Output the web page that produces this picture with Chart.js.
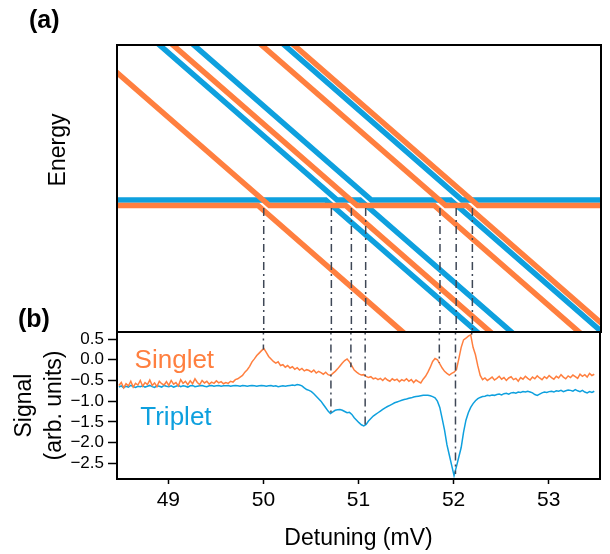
<!DOCTYPE html>
<html>
<head>
<meta charset="utf-8">
<script src="https://cdn.jsdelivr.net/npm/chart.js@4.4.0/dist/chart.umd.min.js"></script>
<style>
  html, body { margin: 0; padding: 0; background: #fff; }
  #wrap { position: relative; width: 610px; height: 554px; font-family: "Liberation Sans", Arial, sans-serif; }
  canvas { position: absolute; left: 0; }
  #energyCanvas { top: 0; }
  #signalCanvas { top: 330px; }
  .panel { position: absolute; font-weight: bold; font-size: 25px; line-height: 1; }
  .ylab { position: absolute; font-size: 23px; white-space: nowrap; transform: translate(-50%, -50%) rotate(-90deg); }
</style>
</head>
<body>
<div id="wrap">
  <canvas id="energyCanvas" width="610" height="334"></canvas>
  <canvas id="signalCanvas" width="610" height="224"></canvas>
  <div class="panel" style="left:29px;top:7px">(a)</div>
  <div class="panel" style="left:18px;top:306px">(b)</div>
  <div class="ylab" style="left:57px;top:150px">Energy</div>
</div>
<script>
const orange = '#FF7F3F';
const blue = '#0EA0DE';
const dashColor = '#3E4756';
const fontFamily = '"Liberation Sans", Arial, sans-serif';

// shared detuning window (mV)
const detuningMin = 48.46, detuningMax = 53.54;
const detuningTicks = [49, 50, 51, 52, 53];
const signalTicks = [0.5, 0.0, -0.5, -1.0, -1.5, -2.0, -2.5];

// (a) energy diagram, [detuning, energy] corners of each branch (arb. units)
const singletBranches = [
  [[48.40, 126.5], [49.94, 126.5], [51.58, -10]],
  [[47.97, 300], [50.06, 126.5], [50.86, 126.5], [52.50, -10]],
  [[48.89, 300], [50.98, 126.5], [51.79, 126.5], [53.43, -10]],
  [[49.82, 300], [51.91, 126.5], [52.13, 126.5], [53.77, -10]],
  [[50.16, 300], [52.25, 126.5], [53.60, 126.5]]
];
const tripletBranches = [
  [[48.40, 132], [50.65, 132], [52.36, -10]],
  [[48.75, 300], [50.77, 132], [51.01, 132], [52.72, -10]],
  [[49.11, 300], [51.13, 132], [51.96, 132], [53.67, -10]],
  [[50.06, 300], [52.08, 132], [53.60, 132]]
];

// anticrossings marked with dash-dot lines and the signal value each one runs down to
const crossingDetuning = [50.00, 50.71, 50.92, 51.07, 51.85, 52.02, 52.19];
const crossingSignal = [0.25, -1.30, -0.18, -1.60, -0.08, -2.76, 0.60];
const dashTopEnergy = 124;

// (b) measured traces, one sample every 0.025 mV from 48.48 mV
const traceStart = 48.48, traceStep = 0.025;
const singlet = [
  -0.62, -0.55, -0.68, -0.58, -0.63, -0.52, -0.66, -0.57, -0.61, -0.50,
  -0.64, -0.55, -0.60, -0.49, -0.62, -0.56, -0.65, -0.52, -0.58, -0.61,
  -0.53, -0.62, -0.50, -0.59, -0.55, -0.63, -0.48, -0.57, -0.52, -0.60,
  -0.51, -0.58, -0.46, -0.55, -0.60, -0.50, -0.56, -0.52, -0.59, -0.54,
  -0.57, -0.51, -0.56, -0.53, -0.58, -0.55, -0.57, -0.52, -0.54, -0.48,
  -0.46, -0.42, -0.38, -0.30, -0.24, -0.16, -0.05, 0.02, 0.10, 0.16,
  0.22, 0.27, 0.18, 0.08, 0.02, -0.04, -0.08, -0.05, -0.14, -0.12,
  -0.18, -0.14, -0.20, -0.17, -0.23, -0.19, -0.25, -0.21, -0.27, -0.24,
  -0.26, -0.30, -0.25, -0.32, -0.28, -0.31, -0.35, -0.30, -0.36, -0.38,
  -0.33, -0.28, -0.22, -0.15, -0.08, -0.02, 0.02, -0.05, -0.15, -0.25,
  -0.30, -0.34, -0.37, -0.36, -0.40, -0.43, -0.41, -0.46, -0.44, -0.48,
  -0.45, -0.50, -0.44, -0.49, -0.52, -0.46, -0.50, -0.47, -0.53, -0.48,
  -0.51, -0.46, -0.52, -0.48, -0.55, -0.49, -0.53, -0.56, -0.47, -0.40,
  -0.30, -0.18, -0.04, 0.03, 0.00, -0.10, -0.20, -0.28, -0.33, -0.37,
  -0.33, -0.30, -0.24, 0.02, 0.30, 0.48, 0.52, 0.57, 0.60, 0.30,
  0.12, -0.15, -0.38, -0.48, -0.44, -0.50, -0.46, -0.42, -0.49, -0.45,
  -0.40, -0.47, -0.43, -0.50, -0.44, -0.41, -0.48, -0.45, -0.52, -0.43,
  -0.47, -0.40, -0.45, -0.49, -0.42, -0.46, -0.39, -0.44, -0.48, -0.41,
  -0.45, -0.38, -0.43, -0.47, -0.40, -0.44, -0.36, -0.42, -0.46, -0.39,
  -0.43, -0.37, -0.41, -0.45, -0.35, -0.40, -0.36, -0.42, -0.33, -0.38, -0.35
];
const triplet = [
  -0.66, -0.63, -0.68, -0.64, -0.66, -0.62, -0.65, -0.67, -0.64, -0.65,
  -0.63, -0.66, -0.64, -0.62, -0.65, -0.67, -0.63, -0.64, -0.66, -0.62,
  -0.64, -0.65, -0.63, -0.66, -0.64, -0.62, -0.65, -0.63, -0.64, -0.66,
  -0.63, -0.62, -0.65, -0.64, -0.63, -0.62, -0.64, -0.65, -0.63, -0.62,
  -0.64, -0.63, -0.62, -0.64, -0.63, -0.63, -0.62, -0.64, -0.63, -0.62,
  -0.63, -0.64, -0.62, -0.63, -0.64, -0.63, -0.62, -0.63, -0.64, -0.63,
  -0.62, -0.63, -0.64, -0.63, -0.62, -0.64, -0.63, -0.65, -0.64, -0.63,
  -0.64, -0.63, -0.62, -0.61, -0.62, -0.60, -0.61, -0.63, -0.68, -0.72,
  -0.74, -0.77, -0.82, -0.88, -0.94, -1.00, -1.08, -1.16, -1.24, -1.30,
  -1.26, -1.22, -1.21, -1.20, -1.22, -1.25, -1.28, -1.27, -1.32, -1.40,
  -1.46, -1.52, -1.57, -1.60, -1.56, -1.48, -1.42, -1.36, -1.32, -1.28,
  -1.24, -1.20, -1.16, -1.13, -1.10, -1.07, -1.04, -1.02, -1.00, -0.98,
  -0.96, -0.95, -0.93, -0.92, -0.90, -0.89, -0.88, -0.87, -0.86, -0.86,
  -0.86, -0.87, -0.89, -0.92, -1.00, -1.15, -1.42, -1.70, -2.05, -2.30,
  -2.55, -2.80, -2.58, -2.35, -2.12, -1.75, -1.46, -1.28, -1.15, -1.06,
  -0.99, -0.94, -0.91, -0.89, -0.88, -0.86, -0.87, -0.85, -0.86, -0.84,
  -0.83, -0.85, -0.82, -0.81, -0.83, -0.80, -0.79, -0.81, -0.78, -0.79,
  -0.77, -0.78, -0.76, -0.78, -0.80, -0.84, -0.86, -0.83, -0.80, -0.78,
  -0.79, -0.77, -0.76, -0.78, -0.75, -0.76, -0.74, -0.77, -0.75, -0.73,
  -0.74, -0.76, -0.72, -0.75, -0.77, -0.74, -0.78, -0.80, -0.77, -0.79, -0.76
];

// in-plot trace names, anchored in data units
const traceLabels = [
  { text: 'Singlet', x: 48.645, y: -0.20, color: orange },
  { text: 'Triplet', x: 48.705, y: -1.58, color: blue }
];

Chart.defaults.font.family = fontFamily;
Chart.defaults.color = '#000';

const toXY = pts => pts.map(([x, y]) => ({ x, y }));
const traceXY = vals => vals.map((y, i) => ({ x: traceStart + i * traceStep, y }));

const branchSet = (pts, color, order) => ({
  data: toXY(pts), borderColor: color, borderWidth: 5.5,
  pointRadius: 0, clip: 0, order
});
const dashSet = pts => ({
  data: pts, borderColor: dashColor, borderWidth: 1.5, borderDash: [8, 4, 2, 4],
  pointRadius: 0, clip: 0, order: 0
});

// box around each panel
const framePlugin = {
  id: 'frame',
  afterDraw(chart) {
    const { ctx, chartArea: a } = chart;
    ctx.save();
    ctx.strokeStyle = '#000';
    ctx.lineWidth = 2;
    ctx.strokeRect(a.left, a.top, a.right - a.left, a.bottom - a.top);
    ctx.restore();
  }
};

const traceLabelPlugin = {
  id: 'traceLabels',
  afterDatasetsDraw(chart) {
    const { ctx, scales: { x, y } } = chart;
    ctx.save();
    ctx.font = '26px ' + fontFamily;
    ctx.textBaseline = 'alphabetic';
    traceLabels.forEach(l => {
      ctx.fillStyle = l.color;
      ctx.fillText(l.text, x.getPixelForValue(l.x), y.getPixelForValue(l.y));
    });
    ctx.restore();
  }
};

const quiet = { legend: { display: false }, tooltip: { enabled: false } };

// (a) energy diagram
new Chart(document.getElementById('energyCanvas'), {
  type: 'line',
  data: {
    datasets: [
      ...crossingDetuning.map(x => dashSet([{ x, y: dashTopEnergy }, { x, y: -5 }])),
      ...singletBranches.map(b => branchSet(b, orange, 1)),
      ...tripletBranches.map(b => branchSet(b, blue, 2))
    ]
  },
  options: {
    responsive: false,
    animation: false,
    events: [],
    layout: { padding: { left: 117, right: 9, top: 45, bottom: 2 } },
    plugins: quiet,
    scales: {
      x: { type: 'linear', display: false, min: detuningMin, max: detuningMax },
      y: { type: 'linear', display: false, min: 0, max: 287 }
    }
  },
  plugins: [framePlugin]
});

// (b) signal traces
new Chart(document.getElementById('signalCanvas'), {
  type: 'line',
  data: {
    datasets: [
      ...crossingDetuning.map((x, i) => dashSet([{ x, y: 0.8 }, { x, y: crossingSignal[i] }])),
      { data: traceXY(singlet), borderColor: orange, borderWidth: 1.5, pointRadius: 0, clip: 0, order: 1 },
      { data: traceXY(triplet), borderColor: blue, borderWidth: 1.5, pointRadius: 0, clip: 0, order: 2 }
    ]
  },
  options: {
    responsive: false,
    animation: false,
    events: [],
    layout: { padding: { left: 0, right: 10, top: 2, bottom: 0 } },
    plugins: quiet,
    scales: {
      x: {
        type: 'linear',
        min: detuningMin,
        max: detuningMax,
        afterBuildTicks: s => { s.ticks = detuningTicks.map(v => ({ value: v })); },
        afterFit: s => { s.height = 75; s.paddingLeft = 0; s.paddingRight = 0; },
        grid: { display: true, drawOnChartArea: false, drawTicks: true, tickLength: 5, tickWidth: 1.5, color: '#000' },
        border: { display: false },
        ticks: { font: { size: 21 }, color: '#000', padding: 4, maxRotation: 0, autoSkip: false, callback: v => String(v) },
        title: { display: true, text: 'Detuning (mV)', font: { size: 23 }, color: '#000', padding: { top: 0, bottom: 2 } }
      },
      y: {
        type: 'linear',
        min: -2.88,
        max: 0.67,
        afterBuildTicks: s => { s.ticks = signalTicks.map(v => ({ value: v })); },
        afterFit: s => { s.width = 117; s.paddingTop = 0; s.paddingBottom = 0; },
        grid: { display: true, drawOnChartArea: false, drawTicks: true, tickLength: 9, tickWidth: 1.5, color: '#000' },
        border: { display: false },
        ticks: { font: { size: 17 }, color: '#000', padding: 4, autoSkip: false, callback: v => v.toFixed(1).replace('-', '\u2212') },
        title: { display: true, text: ['Signal', '(arb. units)'], font: { size: 23, lineHeight: 1.3 }, color: '#000', padding: { top: 10, bottom: 0 } }
      }
    }
  },
  plugins: [framePlugin, traceLabelPlugin]
});
</script>
</body>
</html>
